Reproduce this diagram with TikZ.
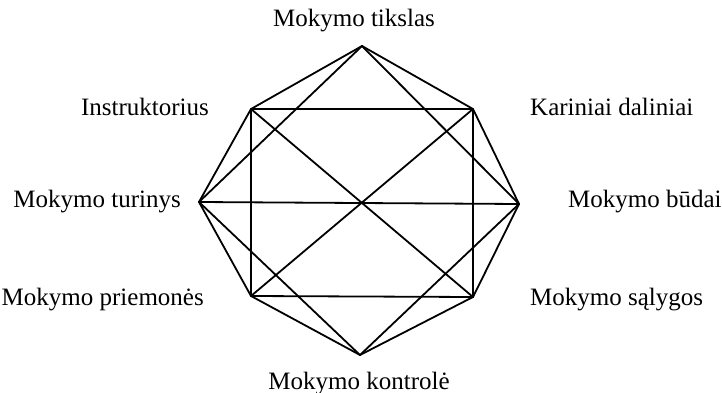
\documentclass[tikz,border=0pt]{standalone}
\usepackage{fontspec}
\setmainfont{Liberation Serif}
\begin{document}
\begin{tikzpicture}[x=1pt,y=-1pt,
  edge/.style={line width=1.8pt,line cap=round,line join=round},
  lbl/.style={inner sep=0pt,font=\fontsize{25}{30}\selectfont}]
\useasboundingbox (0,0) rectangle (722,393);
% vertices
\coordinate (T)  at (362,46);
\coordinate (TR) at (473,109);
\coordinate (R)  at (519,204);
\coordinate (BR) at (473,297);
\coordinate (B)  at (360,355);
\coordinate (BL) at (251,296);
\coordinate (L)  at (199,202);
\coordinate (TL) at (251,109);
% labels
\node[lbl,anchor=base] (lt) at (354,27) {Mokymo tikslas};
\node[lbl,anchor=base east] (lil) at (209,116) {Instruktorius};
\node[lbl,anchor=base west] (lkd) at (530,116) {Kariniai daliniai};
\node[lbl,anchor=base east] (ltu) at (181,207) {Mokymo turinys};
\node[lbl,anchor=base west] (lbu) at (568,207) {Mokymo būdai};
\node[lbl,anchor=base east] (lpr) at (204,305) {Mokymo priemonės};
\node[lbl,anchor=base west] (lsa) at (530,305) {Mokymo sąlygos};
\node[lbl,anchor=base] (lko) at (359,389) {Mokymo kontrolė};
% octagon
\draw[edge] (T) -- (TR) -- (R) -- (BR) -- (B) -- (BL) -- (L) -- (TL) -- cycle;
% rectangle
\draw[edge] (TL) -- (TR) -- (BR) -- (BL) -- cycle;
% diagonals and chords
\draw[edge] (TL) -- (BR);
\draw[edge] (TR) -- (BL);
\draw[edge] (L) -- (R);
\draw[edge] (T) -- (L);
\draw[edge] (T) -- (R);
\draw[edge] (B) -- (L);
\draw[edge] (B) -- (R);
\end{tikzpicture}
\end{document}
